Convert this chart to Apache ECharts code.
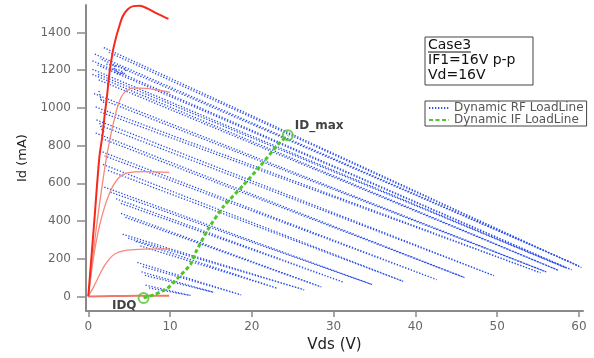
<!DOCTYPE html>
<html>
<head>
<meta charset="utf-8">
<script src="https://cdn.jsdelivr.net/npm/echarts@6/dist/echarts.min.js"></script>
<style>
html,body{margin:0;padding:0;background:#fff;}
#c{width:594px;height:358px;}
</style>
</head>
<body>
<div id="c"></div>
<script>
// ---- tick labels ----
const xTicks = [0, 10, 20, 30, 40, 50, 60];
const yTicks = [0, 200, 400, 600, 800, 1000, 1200, 1400];

// ---- I-V curves (Vds, Id) ----
const ivCurveA = [[0,0],[0.7,380],[1.35,736],[1.75,860],[2.0,960],[2.3,1067],[2.6,1189],[3.0,1300],[3.4,1375],[3.7,1420],[4.2,1485],[4.8,1522],[5.5,1540],[6.3,1542],[7.2,1528],[8.3,1503],[9.8,1472]];
const ivCurveB = [[0,0],[0.8,300],[1.6,560],[2.4,780],[3.4,980],[4.0,1055],[4.6,1090],[5.6,1106],[7.0,1104],[8.5,1095],[10.0,1082]];
const ivCurveC = [[0,0],[0.73,231],[1.55,406],[2.57,545],[3.6,623],[4.8,655],[7.0,662],[8.5,660],[9.9,658]];
const ivCurveD = [[0,0],[0.73,57],[1.96,162],[3.2,224],[4.8,245],[7.0,251],[9.9,252]];
const ivCurveE = [[0,0],[3,2],[6,3],[9.9,4]];

// ---- Dynamic RF load lines: upper start -> right tip -> lower start ----
const rfLoop1  = [[1.9,1320],[60.3,153],[2.5,1295]];
const rfLoop2  = [[0.8,1285],[60.0,162],[1.4,1262]];
const rfLoop3  = [[0.5,1250],[59.1,141],[1.1,1228]];
const rfLoop4  = [[0.5,1205],[58.5,150],[1.0,1182]];
const rfLoop5  = [[0.5,1178],[57.5,138],[1.2,1150]];
const rfLoop6  = [[0.7,1076],[56.0,130],[1.3,1050]];
const rfLoop7  = [[0.9,1005],[55.3,125],[1.5,978]];
const rfLoop8  = [[1.0,936],[49.6,110],[1.6,905]];
const rfLoop9  = [[0.9,867],[46.0,100],[1.5,840]];
const rfLoop10 = [[1.4,772],[42.6,89],[2.0,745]];
const rfLoop11 = [[1.8,700],[38.5,80],[2.3,670]];
const rfLoop12 = [[1.96,580],[34.7,63],[2.6,555]];
const rfLoop13 = [[3.4,518],[31.2,75],[3.9,495]];
const rfLoop14 = [[4.0,440],[28.5,50],[4.5,420]];
const rfLoop15 = [[4.2,330],[26.4,35],[4.8,310]];
const rfLoop16 = [[5.8,292],[23.1,43],[6.2,270]];
const rfLoop17 = [[6.0,180],[18.7,8],[6.5,160]];
const rfLoop18 = [[6.5,130],[15.3,22],[6.9,112]];
const rfLoop19 = [[7.0,60],[12.5,5],[7.4,45]];
const rfSwirl1 = [[2.2,1232],[3.6,1222],[4.6,1205],[4.4,1182],[3.6,1188],[3.1,1212],[3.4,1230]];
const rfSwirl2 = [[2.6,1210],[3.9,1200],[4.3,1188],[3.8,1175],[3.2,1190]];
const rfSwirl3 = [[1.3,1090],[1.6,1040],[2.0,1025]];
const rfSwirl4 = [[1.4,920],[1.7,880],[2.1,870]];
const rfLoops = [rfLoop1,rfLoop2,rfLoop3,rfLoop4,rfLoop5,rfLoop6,rfLoop7,rfLoop8,rfLoop9,rfLoop10,
                 rfLoop11,rfLoop12,rfLoop13,rfLoop14,rfLoop15,rfLoop16,rfLoop17,rfLoop18,rfLoop19,
                 rfSwirl1,rfSwirl2,rfSwirl3,rfSwirl4];

// ---- Dynamic IF load line ----
const ifLoadLine = [[6.76,-8],[8.0,8],[9.6,40],[11.0,100],[12.5,170],[13.1,231],[14.7,360],[16.5,475],[19.0,592],[21.0,690],[23.2,806],[24.4,855]];
const idqPoint = [6.76, -8];
const idMaxPoint = [24.4, 855];

const FONT = 'DejaVu Sans';
const RF_NAME = 'Dynamic RF LoadLine';
const IF_NAME = 'Dynamic IF LoadLine';

const series = [];
rfLoops.forEach(function (loop) {
  series.push({
    name: RF_NAME, type: 'line', data: loop, symbol: 'none', silent: true,
    lineStyle: { color: '#2a4de8', width: 1.3, type: [1.3, 1.7] },
    itemStyle: { color: '#2a4de8' }, z: 2
  });
});
const red = function (d, c, w) {
  return { type: 'line', data: d, symbol: 'none', smooth: 0.3, silent: true,
           lineStyle: { color: c, width: w }, z: 3 };
};
series.push(red(ivCurveE, '#f07868', 2));
series.push(red(ivCurveD, '#f58a7c', 1.3));
series.push(red(ivCurveC, '#f58a7c', 1.3));
series.push(red(ivCurveB, '#f58a7c', 1.3));
series.push(red(ivCurveA, '#f52a1c', 2));
series.push({
  name: IF_NAME, type: 'line', data: ifLoadLine, symbol: 'none', smooth: 0.2,
  lineStyle: { color: '#4fc52a', width: 3, type: [4, 2.5] },
  itemStyle: { color: '#4fc52a' }, z: 4
});
series.push({
  type: 'scatter', symbol: 'circle', symbolSize: 10, z: 5,
  itemStyle: { color: 'rgba(255,255,255,0)', borderColor: '#4fc52a', borderWidth: 2 },
  data: [
    { value: idqPoint, label: { show: true, formatter: 'IDQ', position: 'left', offset: [4, 8] } },
    { value: idMaxPoint, label: { show: true, formatter: 'ID_max', position: 'right', offset: [-4, -9] } }
  ],
  label: { color: '#111', fontFamily: FONT, fontWeight: 'bold', fontSize: 12 }
});

const plain = function (v) { return String(v); };

const chart = echarts.init(document.getElementById('c'), null, { renderer: 'canvas' });
chart.setOption({
  animation: false,
  backgroundColor: '#fff',
  grid: { left: 86, right: 11, top: 5, bottom: 42 },
  xAxis: {
    type: 'value', min: -0.28, max: 60.5,
    name: 'Vds (V)', nameLocation: 'middle', nameGap: 24,
    nameTextStyle: { fontFamily: FONT, fontSize: 15, color: '#222' },
    axisLine: { onZero: false, lineStyle: { color: '#8a8a8a', width: 2 } },
    axisTick: { customValues: xTicks, length: 6, lineStyle: { color: '#8a8a8a', width: 1.5 } },
    axisLabel: { customValues: xTicks, formatter: plain, margin: 10, fontFamily: FONT, fontSize: 12, color: '#666' },
    splitLine: { show: false }
  },
  yAxis: {
    type: 'value', min: -78, max: 1546,
    name: 'Id (mA)', nameLocation: 'middle', nameGap: 52,
    nameTextStyle: { fontFamily: FONT, fontSize: 13, color: '#222' },
    axisLine: { onZero: false, lineStyle: { color: '#8a8a8a', width: 2 } },
    axisTick: { customValues: yTicks, length: 9, lineStyle: { color: '#8a8a8a', width: 1.5 } },
    axisLabel: { customValues: yTicks, formatter: plain, margin: 15, fontFamily: FONT, fontSize: 12, color: '#666' },
    splitLine: { show: false }
  },
  legend: {
    data: [RF_NAME, IF_NAME], orient: 'vertical', left: 425, top: 101,
    itemWidth: 20, itemHeight: 12, itemGap: 0, padding: [1, 3, 0, 3],
    borderColor: '#444', borderWidth: 1, backgroundColor: '#fff',
    itemStyle: { opacity: 0 },
    textStyle: { fontFamily: FONT, fontSize: 12, color: '#555' },
    selectedMode: false
  },
  graphic: [
    { type: 'rect', shape: { x: 425, y: 37, width: 108, height: 48 }, style: { fill: '#fff', stroke: '#444', lineWidth: 1 }, z: 10 },
    { type: 'text', x: 428, y: 45.5, style: { text: 'Case3', font: '14px "DejaVu Sans"', fill: '#111', verticalAlign: 'middle' }, z: 11 },
    { type: 'line', shape: { x1: 428, y1: 52, x2: 471, y2: 52 }, style: { stroke: '#111', lineWidth: 1 }, z: 11 },
    { type: 'text', x: 428, y: 60.5, style: { text: 'IF1=16V p-p', font: '14px "DejaVu Sans"', fill: '#111', verticalAlign: 'middle' }, z: 11 },
    { type: 'text', x: 428, y: 75.5, style: { text: 'Vd=16V', font: '14px "DejaVu Sans"', fill: '#111', verticalAlign: 'middle' }, z: 11 }
  ],
  series: series
});
</script>
</body>
</html>
